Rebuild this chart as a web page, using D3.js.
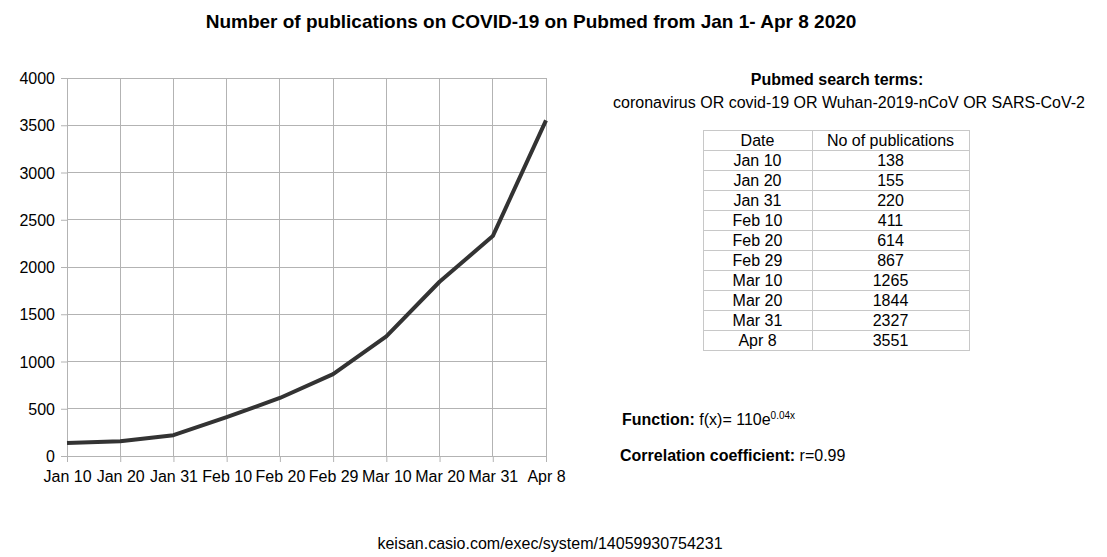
<!DOCTYPE html>
<html><head><meta charset="utf-8">
<script src="https://cdn.jsdelivr.net/npm/d3@7"></script>
<style>body{margin:0;background:#fff}svg{display:block}text{font-family:"Liberation Sans",Arial,sans-serif;fill:#000}</style>
</head><body><svg id="c" width="1107" height="557"></svg>
<script>
const dates = ["Jan 10","Jan 20","Jan 31","Feb 10","Feb 20","Feb 29","Mar 10","Mar 20","Mar 31","Apr 8"];
const pubs = [138,155,220,411,614,867,1265,1844,2327,3551];
const yTicks = [0,500,1000,1500,2000,2500,3000,3500,4000];
const tableHeader = ["Date","No of publications"];

const FS = "16px";
const svg = d3.select("#c");
const x = d3.scalePoint().domain(dates).range([67,546]);
const y = d3.scaleLinear().domain([0,4000]).range([456,78]);

// gridlines
svg.append("g").selectAll("line").data(yTicks).join("line")
  .attr("x1",67).attr("x2",546).attr("y1",d=>y(d)).attr("y2",d=>y(d))
  .attr("stroke","#b3b3b3").attr("stroke-width",1).attr("shape-rendering","crispEdges");
svg.append("g").selectAll("line").data(dates).join("line")
  .attr("x1",d=>x(d)).attr("x2",d=>x(d)).attr("y1",78).attr("y2",456)
  .attr("stroke","#b3b3b3").attr("stroke-width",1).attr("shape-rendering","crispEdges");

// axes
const ya = svg.append("g").attr("transform","translate(67,0)")
  .call(d3.axisLeft(y).tickValues(yTicks).tickFormat(d3.format("d")).tickSize(6).tickPadding(6));
const xa = svg.append("g").attr("transform","translate(0,456)")
  .call(d3.axisBottom(x).tickSize(6).tickPadding(9));
[ya,xa].forEach(a=>{
  a.select(".domain").remove();
  a.selectAll(".tick line").attr("stroke","#b3b3b3");
  a.selectAll("text").style("font-size",FS).attr("fill","#000")
   .style("font-family",'"Liberation Sans",Arial,sans-serif');
});
ya.selectAll("text").attr("dy","0.35em");
svg.append("line").attr("x1",67).attr("x2",546).attr("y1",456.5).attr("y2",456.5).attr("stroke","#b3b3b3");
svg.append("line").attr("x1",67.5).attr("x2",67.5).attr("y1",78).attr("y2",456).attr("stroke","#b3b3b3");

// line
svg.append("path").datum(pubs)
  .attr("d",d3.line().x((d,i)=>x(dates[i])).y(d=>y(d)))
  .attr("fill","none").attr("stroke","#333").attr("stroke-width",4).attr("stroke-linejoin","round");

// title
svg.append("text").attr("x",531).attr("y",28).attr("text-anchor","middle")
  .style("font-size","19px").style("font-weight","bold")
  .text("Number of publications on COVID-19 on Pubmed from Jan 1- Apr 8 2020");

// search terms
svg.append("text").attr("x",837).attr("y",85).attr("text-anchor","middle")
  .style("font-size",FS).style("font-weight","bold").text("Pubmed search terms:");
svg.append("text").attr("x",849).attr("y",108).attr("text-anchor","middle")
  .style("font-size",FS).text("coronavirus OR covid-19 OR Wuhan-2019-nCoV OR SARS-CoV-2");

// table
const tx0=703, tx1=812, tx2=969, ty0=130, rh=20;
const rows = [tableHeader].concat(dates.map((d,i)=>[d,String(pubs[i])]));
const tg = svg.append("g");
tg.selectAll("line.h").data(d3.range(rows.length+1)).join("line")
  .attr("x1",tx0).attr("x2",tx2).attr("y1",i=>ty0+i*rh+0.5).attr("y2",i=>ty0+i*rh+0.5)
  .attr("stroke","#c8c8c8");
[tx0,tx1,tx2].forEach(xx=>tg.append("line").attr("x1",xx+0.5).attr("x2",xx+0.5)
  .attr("y1",ty0).attr("y2",ty0+rows.length*rh+1).attr("stroke","#c8c8c8"));
rows.forEach((r,i)=>{
  tg.append("text").attr("x",(tx0+tx1)/2).attr("y",ty0+i*rh+16).attr("text-anchor","middle")
    .style("font-size",FS).text(r[0]);
  tg.append("text").attr("x",(tx1+tx2)/2).attr("y",ty0+i*rh+16).attr("text-anchor","middle")
    .style("font-size",FS).text(r[1]);
});

// function
const f = svg.append("text").attr("x",622).attr("y",425).style("font-size",FS);
f.append("tspan").style("font-weight","bold").text("Function: ");
f.append("tspan").text("f(x)= 110e");
f.append("tspan").attr("dy",-6).style("font-size","10px").text("0.04x");
const c = svg.append("text").attr("x",620).attr("y",461).style("font-size",FS);
c.append("tspan").style("font-weight","bold").text("Correlation coefficient: ");
c.append("tspan").text("r=0.99");

// footer
svg.append("text").attr("x",550).attr("y",549).attr("text-anchor","middle")
  .style("font-size",FS).text("keisan.casio.com/exec/system/14059930754231");
</script></body></html>
